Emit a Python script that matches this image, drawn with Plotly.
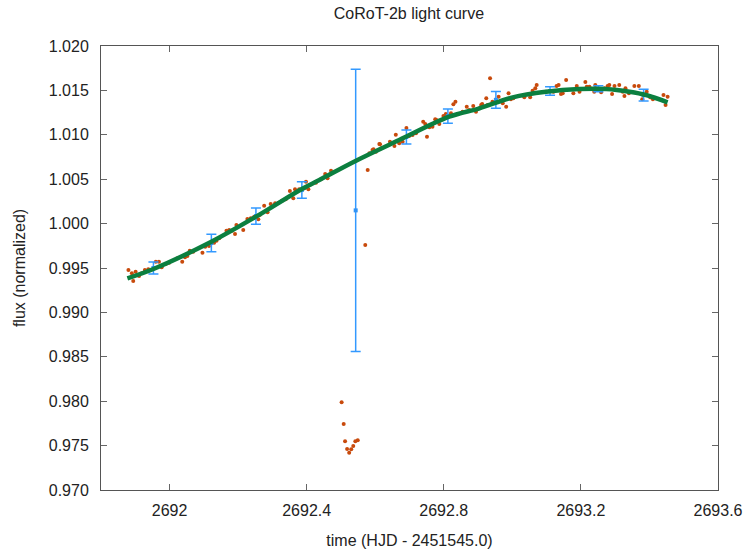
import plotly.graph_objects as go

# observed light curve (time, normalized flux)
time = [2691.880, 2691.890, 2691.894, 2691.901, 2691.911, 2691.919, 2691.928, 2691.938,
        2691.960, 2691.969, 2691.977, 2691.989, 2691.999, 2692.023, 2692.037, 2692.045,
        2692.052, 2692.059, 2692.069, 2692.096, 2692.104, 2692.115, 2692.130, 2692.137,
        2692.145, 2692.166, 2692.174, 2692.182, 2692.191, 2692.195, 2692.215, 2692.227,
        2692.237, 2692.247, 2692.259, 2692.263, 2692.276, 2692.286, 2692.295, 2692.308,
        2692.318, 2692.328, 2692.339, 2692.351, 2692.361, 2692.366, 2692.378, 2692.393,
        2692.398, 2692.405, 2692.409, 2692.427, 2692.442, 2692.454, 2692.461, 2692.471,
        2692.502, 2692.508, 2692.512, 2692.518, 2692.524, 2692.530, 2692.536, 2692.542,
        2692.549, 2692.571, 2692.578, 2692.583, 2692.592, 2692.595, 2692.602, 2692.612,
        2692.614, 2692.618, 2692.643, 2692.656, 2692.660, 2692.670, 2692.680, 2692.691,
        2692.699, 2692.709, 2692.719, 2692.740, 2692.746, 2692.751, 2692.758, 2692.767,
        2692.775, 2692.779, 2692.787, 2692.799, 2692.806, 2692.821, 2692.828, 2692.834,
        2692.840, 2692.855, 2692.867, 2692.874, 2692.886, 2692.894, 2692.904, 2692.909,
        2692.912, 2692.924, 2692.928, 2692.935, 2692.942, 2692.960, 2692.972, 2692.982,
        2692.989, 2692.996, 2693.003, 2693.035, 2693.052, 2693.059, 2693.067, 2693.071,
        2693.098, 2693.120, 2693.129, 2693.135, 2693.142, 2693.147, 2693.157, 2693.178,
        2693.188, 2693.196, 2693.213, 2693.217, 2693.225, 2693.239, 2693.242, 2693.259,
        2693.269, 2693.278, 2693.283, 2693.291, 2693.298, 2693.312, 2693.322, 2693.327,
        2693.330, 2693.340, 2693.356, 2693.369, 2693.379, 2693.392, 2693.402, 2693.410,
        2693.441, 2693.447, 2693.453]
flux = [0.99477, 0.99440, 0.99354, 0.99458, 0.99410, 0.99440, 0.99477, 0.99485,
        0.99571, 0.99571, 0.99508, 0.99545, 0.99560, 0.99609, 0.99571, 0.99620,
        0.99635, 0.99695, 0.99684, 0.99672, 0.99740, 0.99748, 0.99785, 0.99807,
        0.99834, 0.99920, 0.99928, 0.99920, 0.99883, 0.99984, 0.99928, 1.00052,
        1.00060, 1.00078, 1.00048, 1.00097, 1.00201, 1.00127, 1.00220, 1.00228,
        1.00235, 1.00258, 1.00274, 1.00367, 1.00285, 1.00386, 1.00386, 1.00397,
        1.00472, 1.00386, 1.00434, 1.00460, 1.00499, 1.00558, 1.00510, 1.00596,
        0.97988, 0.97743, 0.97548, 0.97462, 0.97420, 0.97458, 0.97495, 0.97548,
        0.97560, 0.99759, 1.00603, 1.00792, 1.00829, 1.00837, 1.00810, 1.00896,
        1.00893, 1.00848, 1.00922, 1.00874, 1.01001, 1.00904, 1.00922, 1.01076,
        1.00986, 1.00998, 1.01017, 1.01147, 1.01121, 1.00978, 1.01084, 1.01091,
        1.01174, 1.01167, 1.01121, 1.01212, 1.01234, 1.01242, 1.01343, 1.01373,
        1.01234, 1.01260, 1.01316, 1.01279, 1.01324, 1.01260, 1.01298, 1.01335,
        1.01347, 1.01411, 1.01335, 1.01636, 1.01373, 1.01429, 1.01355, 1.01316,
        1.01467, 1.01400, 1.01411, 1.01422, 1.01422, 1.01496, 1.01523, 1.01561,
        1.01485, 1.01485, 1.01549, 1.01561, 1.01459, 1.01467, 1.01617, 1.01467,
        1.01549, 1.01485, 1.01594, 1.01542, 1.01542, 1.01485, 1.01561, 1.01478,
        1.01523, 1.01549, 1.01561, 1.01459, 1.01549, 1.01561, 1.01485, 1.01437,
        1.01523, 1.01467, 1.01549, 1.01549, 1.01400, 1.01485, 1.01422, 1.01400,
        1.01448, 1.01335, 1.01429]

# binned means with error bars
bin_time = [2691.953, 2692.122, 2692.252, 2692.386, 2692.543, 2692.691,
            2692.812, 2692.952, 2693.110, 2693.251, 2693.383]
bin_flux = [0.99500, 0.99781, 1.00085, 1.00378, 1.00149, 1.00975,
            1.01211, 1.01394, 1.01493, 1.01519, 1.01448]
bin_err = [0.00068, 0.00098, 0.00092, 0.00092, 0.01588, 0.00080,
           0.00080, 0.00094, 0.00048, 0.00034, 0.00066]

# model fit
model_time = [2691.877, 2691.953, 2692.122, 2692.252, 2692.386, 2692.437, 2692.544,
              2692.670, 2692.816, 2692.904, 2693.001, 2693.098, 2693.196, 2693.274,
              2693.342, 2693.390, 2693.453]
model_flux = [0.99384, 0.99489, 0.99796, 1.00078, 1.00390, 1.00491, 1.00708,
              1.00941, 1.01204, 1.01298, 1.01422, 1.01485, 1.01516, 1.01516,
              1.01485, 1.01448, 1.01366]

fig = go.Figure()
fig.add_trace(go.Scatter(x=time, y=flux, mode="markers",
                         marker=dict(color="#c84a0c", size=4, symbol="circle"),
                         showlegend=False))
fig.add_trace(go.Scatter(x=bin_time, y=bin_flux, mode="markers",
                         marker=dict(color="#2f93f5", size=4, symbol="square"),
                         error_y=dict(type="data", array=bin_err, visible=True,
                                      color="#3399ff", thickness=1.5, width=5),
                         showlegend=False))
fig.add_trace(go.Scatter(x=model_time, y=model_flux, mode="lines",
                         line=dict(color="#0b7f3f", width=4.5, shape="spline"),
                         showlegend=False))

axis_common = dict(showline=True, linecolor="#555555", linewidth=1, mirror="ticks",
                   ticks="inside", ticklen=6, tickcolor="#666666", showgrid=False,
                   zeroline=False, automargin=False,
                   tickfont=dict(size=16, color="#222222"))
fig.update_xaxes(range=[2691.8, 2693.6], dtick=0.4, tick0=2692, tickformat=".5~g",
                 ticklabelstandoff=6,
                 title=dict(text="time (HJD - 2451545.0)", standoff=16,
                            font=dict(size=16, color="#222222")),
                 **axis_common)
fig.update_yaxes(range=[0.970, 1.020], dtick=0.005, tickformat=".3f",
                 ticklabelstandoff=8,
                 title=dict(text="flux (normalized)", standoff=19,
                            font=dict(size=16, color="#222222")),
                 **axis_common)
fig.update_layout(width=749, height=553,
                  margin=dict(l=101, r=31, t=46, b=63),
                  plot_bgcolor="white", paper_bgcolor="white",
                  font=dict(family="Liberation Sans, Arial, sans-serif", color="#222222"),
                  title=dict(text="CoRoT-2b light curve", x=0.546, xanchor="center",
                             y=0.985, yanchor="top", font=dict(size=16, color="#222222")))
fig.write_html("out.html")
